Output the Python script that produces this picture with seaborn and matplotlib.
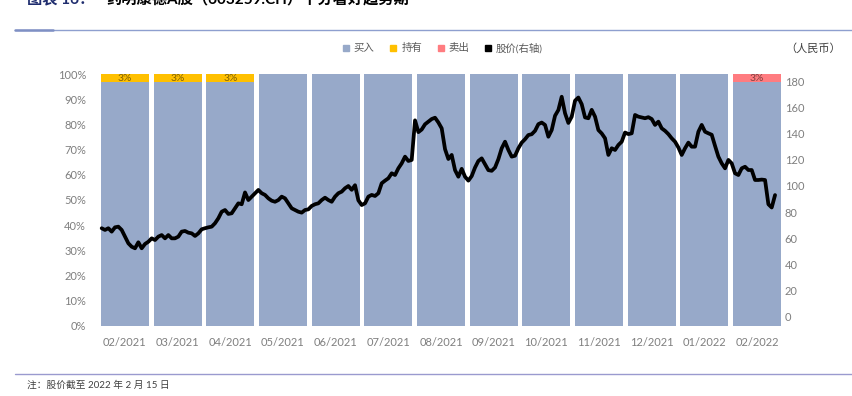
import numpy as np
import matplotlib
matplotlib.use("Agg")
import matplotlib.pyplot as plt
from matplotlib.lines import Line2D
from matplotlib.ticker import PercentFormatter
import seaborn as sns

# monthly rating mix (share of analysts)
months = ["02/2021", "03/2021", "04/2021", "05/2021", "06/2021", "07/2021", "08/2021",
          "09/2021", "10/2021", "11/2021", "12/2021", "01/2022", "02/2022"]
buy = [0.97, 0.97, 0.97, 1, 1, 1, 1, 1, 1, 1, 1, 1, 0.97]
hold = [0.03, 0.03, 0.03, 0, 0, 0, 0, 0, 0, 0, 0, 0, 0]
sell = [0, 0, 0, 0, 0, 0, 0, 0, 0, 0, 0, 0, 0.03]

# share price (RMB), evenly spaced through the period
price = [
    67.7, 66.4, 67.7, 65.1, 68.4, 68.9, 66.4, 61.3, 56.2, 53.6, 52.4, 57.0, 52.4, 55.7,
    57.4, 60.0, 58.7, 61.3, 62.5, 60.0, 62.5, 60.0, 60.0, 61.3, 65.1, 65.6, 64.3, 63.8,
    61.8, 63.8, 66.9, 67.7, 68.4, 68.9, 71.5, 75.3, 80.3, 81.6, 78.6, 79.1, 82.9, 86.7,
    86.0, 95.0, 89.2, 91.8, 94.4, 96.9, 94.4, 93.1, 90.5, 88.7, 87.9,
    89.2, 91.8, 90.5, 86.7, 82.9, 81.6, 80.3, 79.6, 81.6, 82.1, 84.7, 86.0, 86.7, 89.2,
    91.0, 89.2, 87.9, 91.8, 94.4, 95.6, 98.2, 99.9, 97.0, 100.5, 89.0, 85.4, 86.7, 91.8,
    93.1, 92.3, 94.4, 102.0, 104.0, 105.8, 109.6, 108.3, 113.4, 117.2, 122.3, 119.0, 119.8,
    150.0, 141.0, 143.0, 147.0, 149.0,
    151.0, 152.0, 148.4, 143.9, 128.0, 120.5, 123.6, 112.0, 107.0, 113.0, 107.0, 104.0,
    107.5, 114.0, 119.0, 121.0, 116.5, 112.0, 111.5, 114.0, 120.4, 128.7, 133.7, 127.4,
    122.3, 123.0, 128.7, 133.0, 135.6, 138.8, 139.4, 142.0, 147.1, 148.3, 146.5, 137.5,
    142.6, 153.5, 157.9, 168.0, 155.4, 148.0, 152.8, 165.0, 167.4, 162.3, 152.2, 151.6,
    158.0, 152.8, 142.6, 140.0,
    136.3, 123.6, 128.7, 127.4, 131.2, 133.7, 140.7, 139.5, 140.1, 154.1, 152.8, 152.2,
    151.6, 152.4, 151.0, 146.5, 149.0, 143.9, 142.0, 139.5, 136.3, 133.7, 129.3, 123.6,
    128.7, 133.0, 129.9, 129.9, 141.3, 146.5, 141.3, 140.1, 139.0, 130.5, 122.3, 117.2,
    113.4, 119.8, 117.2, 109.6, 108.3, 113.4, 114.6, 112.1, 112.1, 104.5, 104.5, 104.8,
    104.5, 86.0, 83.5, 93.0,
]

legend_labels = ["买入", "持有", "卖出", "股价(右轴)"]
c_buy, c_hold, c_sell = "#97A9C9", "#FFC000", "#FF7C80"
grey = "#7F7F7F"

sns.set_theme(style="white")
plt.rcParams["font.family"] = ["Lato", "Noto Sans CJK SC", "DejaVu Sans"]

fig = plt.figure(figsize=(8.53, 3.96), dpi=100)
ax = fig.add_axes([0.1155, 0.178, 0.803, 0.634])

buy_arr = np.array(buy)
hold_arr = np.array(hold)
sell_arr = np.array(sell)
# stacked bars drawn as overlapping cumulative layers
for vals, col in [(buy_arr + hold_arr + sell_arr, c_sell),
                  (buy_arr + hold_arr, c_hold),
                  (buy_arr, c_buy)]:
    sns.barplot(x=months, y=vals, order=months, color=col, saturation=1,
                width=0.91, linewidth=0, ax=ax)

for i in range(len(months)):
    for band in (hold_arr[i], sell_arr[i]):
        if band > 0:
            ax.text(i, buy_arr[i] + band / 2, f"{band:.0%}", ha="center", va="center",
                    fontsize=7.5, color="#7F6000" if hold_arr[i] > 0 else "#7F3F3F")

ax.set_xlim(-0.5, len(months) - 0.5)
ax.set_ylim(0, 1)
ax.set_yticks(np.arange(0, 1.01, 0.1))
ax.yaxis.set_major_formatter(PercentFormatter(1, decimals=0))
ax.set_xlabel("")
ax.set_ylabel("")
ax.tick_params(axis="both", length=0, labelsize=8, labelcolor=grey)
ax.tick_params(axis="x", pad=8)
ax.tick_params(axis="y", pad=9)
for s in ax.spines.values():
    s.set_visible(False)

ax2 = ax.twinx()
xpos = np.linspace(-0.44, 12.34, len(price))
sns.lineplot(x=xpos, y=price, ax=ax2, color="black", linewidth=2.7)
ax2.set_ylim(-6.5, 185)
ax2.set_yticks(np.arange(0, 181, 20))
ax2.tick_params(axis="y", length=0, labelsize=8, labelcolor=grey, pad=1)
ax2.set_ylabel("")
for s in ax2.spines.values():
    s.set_visible(False)
ax2.grid(False)
ax.grid(False)

handles = [Line2D([], [], marker="s", linestyle="", color=c, markersize=5)
           for c in (c_buy, c_hold, c_sell, "black")]
fig.legend(handles, legend_labels, loc="center", bbox_to_anchor=(0.518, 1 - 48 / 396),
           ncol=4, frameon=False, fontsize=7.5, handletextpad=0.25, columnspacing=1.3,
           handlelength=1.0, labelcolor="#595959")
fig.text(813 / 853, 1 - 48 / 396, "（人民币）", ha="center", va="center", fontsize=8,
         color="#404040")

# header / footer decoration
fig.text(27 / 853, 1 - 3 / 396, "图表 16：", ha="left", va="baseline", fontsize=11,
         fontweight="bold", color="#1F2D6E")
fig.text(106 / 853, 1 - 3 / 396, "药明康德A股（603259.CH）十分看好趋势期", ha="left",
         va="baseline", fontsize=11, fontweight="bold", color="black")
fig.add_artist(Line2D([15 / 853, 1], [1 - 29.5 / 396] * 2, color="#8E9FCF", lw=1.0))
fig.add_artist(Line2D([15 / 853, 53 / 853], [1 - 29.5 / 396] * 2, color="#7F90C4", lw=1.8))
fig.add_artist(Line2D([15 / 853, 1], [1 - 373.5 / 396] * 2, color="#9A9ACF", lw=1.0))
fig.text(27 / 853, 1 - 385 / 396, "注：股价截至 2022 年 2 月 15 日", ha="left", va="center",
         fontsize=7, color="#404040")

fig.savefig("out.png", dpi=100)
